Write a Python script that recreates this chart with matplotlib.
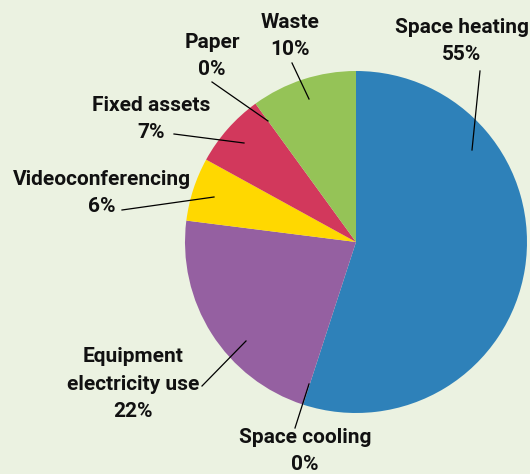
import matplotlib
matplotlib.use("Agg")
from matplotlib import pyplot as plt

# shares of the footprint, in drawing order (clockwise from 12 o'clock)
categories = ["Space heating", "Space cooling", "Equipment\nelectricity use",
              "Videoconferencing", "Fixed assets", "Paper", "Waste"]
shares = [55, 0, 22, 6, 7, 0, 10]
colours = ["#2e81b9", "#2e81b9", "#9560a1", "#ffd800", "#d2385c", "#d2385c", "#95c357"]

bg = "#ebf2e1"
H = 474  # figure height in px, label positions below are given from the top

# label block centre and leader line (text end -> wedge end), in px from top-left
label_pos = [(462, 41), (305, 451), (133, 384), (102, 193), (151, 119), (212, 56), (290, 36)]
leaders = [((480, 71), (472, 150)),
           ((295, 428), (309, 384)),
           ((202, 386), (246, 341)),
           ((122, 210), (214, 197)),
           ((174, 134), (244, 143)),
           ((212, 82), (268, 121)),
           ((292, 63), (309, 99))]

plt.rcParams['font.family'] = ['Roboto', 'DejaVu Sans']

fig = plt.figure(figsize=(5.3, 4.74), dpi=100, facecolor=bg)
ax = fig.add_axes([0, 0, 1, 1])
ax.set_facecolor(bg)

ax.pie(shares, colors=colours, startangle=90, counterclock=False,
       center=(356, H - 242), radius=171, wedgeprops=dict(linewidth=0))
ax.set_xlim(0, 530)
ax.set_ylim(0, H)
ax.set_aspect("equal")
ax.axis("off")

for name, val, (tx, ty), (p0, p1) in zip(categories, shares, label_pos, leaders):
    ax.plot([p0[0], p1[0]], [H - p0[1], H - p1[1]], color="black", lw=0.9)
    ax.text(tx, H - ty, "{}\n{}%".format(name, val), ha="center", va="center",
            fontsize=15, fontweight="bold", linespacing=1.55, color="#111111")

fig.savefig("out.png", dpi=100, facecolor=bg)
plt.close('all')
